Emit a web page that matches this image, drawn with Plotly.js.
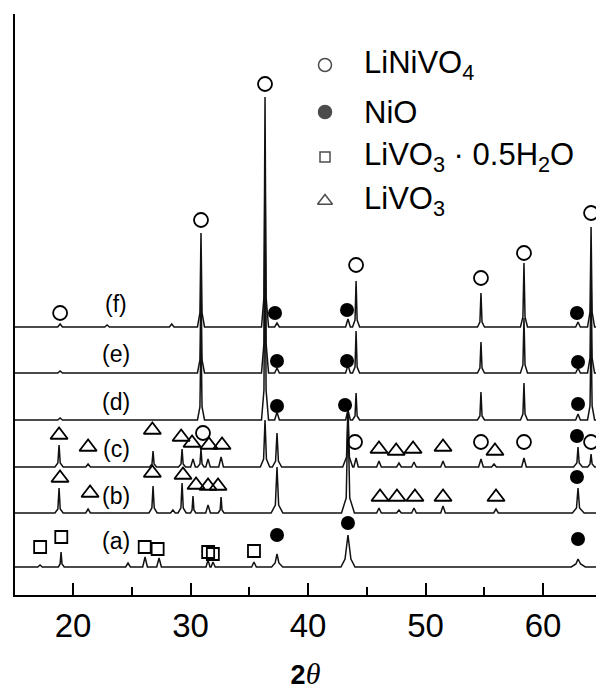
<!DOCTYPE html>
<html>
<head>
<meta charset="utf-8">
<script src="https://cdn.plot.ly/plotly-3.0.1.min.js"></script>
<style>html,body{margin:0;padding:0;background:#fff;}#chart{width:596px;height:690px;}</style>
</head>
<body>
<div id="chart"></div>
<script>
// ---- data (2θ in degrees, intensity in a.u. above each pattern's baseline) ----
const patternNames = ['(a)', '(b)', '(c)', '(d)', '(e)', '(f)'];
const offsets = [28, 82, 128, 175, 222, 268];   // vertical shift of each stacked pattern (a.u.)

const twoThetaA = [15.0, 17.0, 17.19, 17.38, 18.75, 18.9, 18.98, 19.06, 19.25, 24.48, 24.68, 24.88, 25.93, 26.13, 26.33, 27.12, 27.32, 27.52, 31.32, 31.49, 31.66, 31.75, 31.91, 32.1, 35.2, 35.4, 35.6, 36.9, 37.2, 37.36, 37.52, 37.85, 42.8, 43.15, 43.4, 43.65, 44.0, 62.4, 62.8, 62.98, 63.2, 63.6, 64.6];
const intensityA = [0, 0, 2, 0, 0, 3, 15, 3, 0, 0, 4, 0, 0, 10, 0, 0, 9, 0, 0, 7, 0, 0, 5, 0, 0, 5, 0, 0, 4, 13, 4, 0, 0, 8, 32, 8, 0, 0, 3, 8, 3, 0, 0];

const twoThetaB = [15.0, 18.46, 18.71, 18.81, 18.91, 19.16, 21.08, 21.28, 21.48, 26.46, 26.71, 26.81, 26.91, 27.16, 28.3, 28.5, 28.7, 28.93, 29.18, 29.28, 29.38, 29.63, 30.0, 30.13, 30.21, 30.29, 30.45, 31.29, 31.49, 31.69, 32.35, 32.52, 32.6, 32.68, 32.85, 36.86, 37.22, 37.36, 37.5, 37.86, 42.85, 43.25, 43.4, 43.55, 43.95, 45.84, 46.04, 46.24, 47.54, 47.74, 47.94, 48.82, 49.02, 49.22, 51.29, 51.49, 51.69, 55.8, 56.0, 56.2, 62.5, 62.85, 62.98, 63.11, 63.5, 64.6];
const intensityB = [0, 0, 4, 25, 4, 0, 0, 4, 0, 0, 5, 27, 5, 0, 0, 3, 0, 0, 5, 30, 5, 0, 0, 3, 17, 3, 0, 0, 8, 0, 0, 3, 16, 3, 0, 0, 8, 46, 8, 0, 0, 15, 100, 15, 0, 0, 5, 0, 0, 3, 0, 0, 5, 0, 0, 7, 0, 0, 4, 0, 0, 5, 25, 5, 0, 0];

const twoThetaC = [15.0, 18.46, 18.71, 18.81, 18.91, 19.16, 21.08, 21.28, 21.48, 26.51, 26.72, 26.81, 26.9, 27.11, 28.98, 29.19, 29.28, 29.37, 29.58, 30.01, 30.21, 30.41, 30.6, 30.8, 30.89, 30.98, 31.15, 31.3, 31.49, 31.68, 32.4, 32.6, 32.8, 35.94, 36.22, 36.34, 36.46, 36.74, 36.96, 37.24, 37.36, 37.48, 37.76, 42.95, 43.28, 43.4, 43.52, 43.8, 43.9, 44.09, 44.28, 45.84, 46.04, 46.24, 47.54, 47.74, 47.94, 48.82, 49.02, 49.22, 51.29, 51.49, 51.69, 54.52, 54.72, 54.92, 55.63, 55.83, 56.03, 58.18, 58.38, 58.58, 62.6, 62.88, 62.98, 63.08, 63.36, 63.8, 64.0, 64.09, 64.18, 64.4, 64.6];
const intensityC = [0, 0, 4, 22, 4, 0, 0, 3, 0, 0, 3, 16, 3, 0, 0, 3, 18, 3, 0, 0, 8, 0, 0, 3, 18, 3, 0, 0, 8, 0, 0, 10, 0, 0, 8, 47, 8, 0, 0, 6, 34, 6, 0, 0, 10, 60, 10, 0, 0, 9, 0, 0, 6, 0, 0, 4, 0, 0, 5, 0, 0, 6, 0, 0, 8, 0, 0, 3, 0, 0, 9, 0, 0, 4, 20, 4, 0, 0, 3, 13, 3, 0, 0];

const twoThetaD = [15.0, 18.7, 18.9, 19.1, 30.59, 30.8, 30.89, 30.98, 31.19, 36.04, 36.25, 36.34, 36.43, 36.64, 37.16, 37.36, 37.56, 43.2, 43.4, 43.6, 43.79, 44.0, 44.09, 44.18, 44.39, 54.42, 54.63, 54.72, 54.81, 55.02, 58.08, 58.29, 58.38, 58.47, 58.68, 62.78, 62.98, 63.18, 63.79, 64.0, 64.09, 64.18, 64.39, 64.6];
const intensityD = [0, 0, 2, 0, 0, 13, 88, 13, 0, 0, 30, 215, 30, 0, 0, 8, 0, 0, 10, 0, 0, 4, 27, 4, 0, 0, 4, 28, 4, 0, 0, 6, 37, 6, 0, 0, 6, 0, 0, 14, 90, 14, 0, 0];

const twoThetaE = [15.0, 18.7, 18.9, 19.1, 30.59, 30.8, 30.89, 30.98, 31.19, 36.04, 36.25, 36.34, 36.43, 36.64, 37.16, 37.36, 37.56, 43.2, 43.4, 43.6, 43.79, 44.0, 44.09, 44.18, 44.39, 54.42, 54.63, 54.72, 54.81, 55.02, 58.08, 58.29, 58.38, 58.47, 58.68, 62.78, 62.98, 63.18, 63.79, 64.0, 64.09, 64.18, 64.39, 64.6];
const intensityE = [0, 0, 2, 0, 0, 13, 90, 13, 0, 0, 30, 222, 30, 0, 0, 5, 0, 0, 8, 0, 0, 6, 42, 6, 0, 0, 5, 31, 5, 0, 0, 8, 55, 8, 0, 0, 5, 0, 0, 15, 100, 15, 0, 0];

const twoThetaF = [15.0, 18.7, 18.9, 19.1, 22.7, 22.9, 23.1, 28.2, 28.4, 28.6, 30.59, 30.8, 30.89, 30.98, 31.19, 36.04, 36.25, 36.34, 36.43, 36.64, 37.16, 37.36, 37.56, 43.2, 43.4, 43.6, 43.79, 44.0, 44.09, 44.18, 44.39, 54.42, 54.63, 54.72, 54.81, 55.02, 58.08, 58.29, 58.38, 58.47, 58.68, 62.78, 62.98, 63.18, 63.79, 64.0, 64.09, 64.18, 64.39, 64.6];
const intensityF = [0, 0, 3, 0, 0, 2, 0, 0, 3, 0, 0, 14, 94, 14, 0, 0, 30, 230, 30, 0, 0, 4, 0, 0, 8, 0, 0, 7, 46, 7, 0, 0, 5, 34, 5, 0, 0, 10, 64, 10, 0, 0, 5, 0, 0, 15, 100, 15, 0, 0];

// phase markers: 2θ, pattern index (0=a ... 5=f), height of the marker above that pattern's baseline
const liNiVO4X = [18.9, 30.89, 36.34, 44.09, 54.72, 58.38, 64.09, 31.06, 44.0, 54.72, 58.38, 64.09];
const liNiVO4Row = [5, 5, 5, 5, 5, 5, 5, 2, 2, 2, 2, 2];
const liNiVO4Level = [14, 107, 243, 62, 49, 74, 114, 34, 25, 25, 25, 25];

const niOX = [37.19, 43.32, 62.89, 37.36, 43.32, 62.98, 37.36, 43.15, 62.98, 62.89, 62.89, 37.36, 43.40, 62.98];
const niORow = [5, 5, 5, 4, 4, 4, 3, 3, 3, 2, 1, 0, 0, 0];
const niOLevel = [14, 17, 14, 12, 12, 11, 14, 15, 16, 31, 36, 32, 44, 28];

const liVO3HydX = [17.2, 19.0, 26.1, 27.2, 31.5, 31.9, 35.4];
const liVO3HydRow = [0, 0, 0, 0, 0, 0, 0];
const liVO3HydLevel = [20, 30, 20, 18, 15, 13, 16];

const liVO3X = [18.81, 21.28, 26.75, 29.2, 30.13, 31.57, 32.68, 46.04, 47.5, 48.94, 51.49, 55.91,
                18.89, 21.45, 26.75, 29.36, 30.47, 31.49, 32.34, 46.13, 47.57, 49.1, 51.49, 56.0];
const liVO3Row = [2, 2, 2, 2, 2, 2, 2, 2, 2, 2, 2, 2, 1, 1, 1, 1, 1, 1, 1, 1, 1, 1, 1, 1];
const liVO3Level = [32, 20, 37, 30, 24, 22, 22, 18, 16, 18, 20, 16, 35, 20, 40, 38, 28, 27, 27, 16, 16, 16, 16, 16];

const legendLabels = ['LiNiVO<sub>4</sub>', 'NiO', 'LiVO<sub>3</sub> · 0.5H<sub>2</sub>O', 'LiVO<sub>3</sub>'];
const labelTwoTheta = 23.66;
const labelLevel = [26, 17, 18, 18, 19, 23];
const tickValues = [20, 30, 40, 50, 60];
const xAxisTitle = '<b>2</b><span style="font-family:\'Liberation Serif\',serif;font-size:30px"><i>θ</i></span>';

// ---- build traces ----
const SANS = 'Liberation Sans, Arial, Helvetica, sans-serif';
const patternsX = [twoThetaA, twoThetaB, twoThetaC, twoThetaD, twoThetaE, twoThetaF];
const patternsY = [intensityA, intensityB, intensityC, intensityD, intensityE, intensityF];

const traces = [];
patternsX.forEach((xs, i) => {
  traces.push({
    type: 'scatter', mode: 'lines', name: patternNames[i],
    x: xs, y: patternsY[i].map(v => v + offsets[i]),
    line: {color: '#111', width: 1.5}, hoverinfo: 'x+y', showlegend: false
  });
});

function markerTrace(name, xs, rows, levels, symbol, size, lw) {
  return {
    type: 'scatter', mode: 'markers', name: name,
    x: xs, y: levels.map((lv, k) => lv + offsets[rows[k]]),
    marker: {symbol: symbol, size: size, color: '#000', line: {color: '#000', width: lw}},
    showlegend: false, cliponaxis: false
  };
}
traces.push(markerTrace('LiNiVO4', liNiVO4X, liNiVO4Row, liNiVO4Level, 'circle-open', 14, 1.8));
traces.push(markerTrace('NiO', niOX, niORow, niOLevel, 'circle', 14, 0));
traces.push(markerTrace('LiVO3·0.5H2O', liVO3HydX, liVO3HydRow, liVO3HydLevel, 'square-open', 12, 1.8));
traces.push(markerTrace('LiVO3', liVO3X, liVO3Row, liVO3Level, 'triangle-up-open', 15, 1.8));

// legend key (drawn on an auxiliary pixel-like axis pair)
const legendSymbols = ['circle-open', 'circle', 'square-open', 'triangle-up-open'];
const legendSizes = [13, 13, 10, 13];
const legendRowY = [65, 112, 157, 201];
traces.push({
  type: 'scatter', mode: 'markers', xaxis: 'x2', yaxis: 'y2', showlegend: false, hoverinfo: 'skip',
  x: legendRowY.map(() => 325), y: legendRowY,
  marker: {symbol: legendSymbols, size: legendSizes, color: '#000', line: {color: '#000', width: 1.5}}
});

const annotations = [];
patternNames.forEach((n, i) => {
  annotations.push({x: labelTwoTheta, y: offsets[i] + labelLevel[i], xref: 'x', yref: 'y', text: n,
    showarrow: false, xanchor: 'center', yanchor: 'middle', font: {family: SANS, size: 23, color: '#000'}});
});
legendLabels.forEach((t, i) => {
  annotations.push({x: 362, y: legendRowY[i], xref: 'x2', yref: 'y2', text: t, showarrow: false,
    xanchor: 'left', yanchor: 'middle', font: {family: SANS, size: 31, color: '#000'}});
});

const layout = {
  width: 596, height: 690,
  margin: {l: 15, r: 0, t: 14, b: 95},
  paper_bgcolor: '#fff', plot_bgcolor: '#fff',
  showlegend: false,
  xaxis: {
    range: [15.06, 64.51], tickvals: tickValues, ticks: 'inside', ticklen: 12, tickwidth: 2, tickcolor: '#000',
    minor: {dtick: 5, tick0: 0, ticks: 'inside', ticklen: 8, tickwidth: 2, tickcolor: '#000'},
    showline: true, linewidth: 2, linecolor: '#000', showgrid: false, zeroline: false,
    tickfont: {family: SANS, size: 33, color: '#000'},
    title: {text: xAxisTitle, font: {family: SANS, size: 27, color: '#000'}, standoff: 24},
    automargin: false
  },
  yaxis: {
    range: [0, 581], showline: true, linewidth: 2, linecolor: '#000', ticks: '', showticklabels: false,
    showgrid: false, zeroline: false, automargin: false
  },
  xaxis2: {overlaying: 'x', range: [15, 596], visible: false, fixedrange: true},
  yaxis2: {overlaying: 'y', range: [595, 14], visible: false, fixedrange: true},
  annotations: annotations
};

Plotly.newPlot('chart', traces, layout, {displayModeBar: false, staticPlot: true});
</script>
</body>
</html>
